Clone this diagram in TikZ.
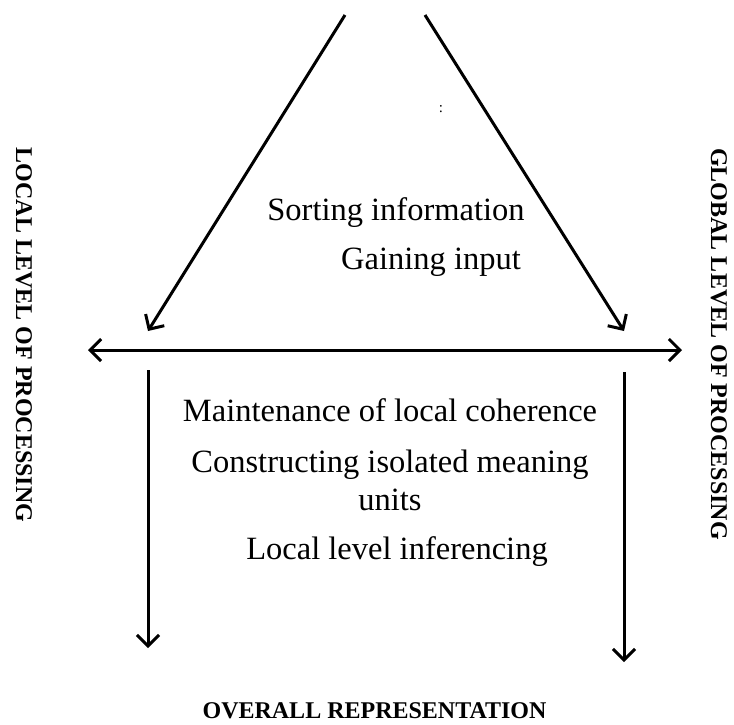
\documentclass[tikz,border=0pt]{standalone}
\usepackage{fontspec}
\setmainfont{Liberation Serif}
\usetikzlibrary{arrows.meta}
\tikzset{
  tip/.style={},
  conn/.style={line width=3pt, -{Straight Barb[length=11pt,width=22pt,line width=3pt]}},
  biconn/.style={line width=3pt, {Straight Barb[length=11pt,width=22pt,line width=3pt]}-{Straight Barb[length=11pt,width=22pt,line width=3pt]}},
  txt/.style={inner sep=0pt, font=\fontsize{32.5}{36}\selectfont},
  lbl/.style={inner sep=0pt, font=\fontsize{24}{28}\selectfont\bfseries},
}
\begin{document}
\begin{tikzpicture}[x=1pt,y=-1pt]
\useasboundingbox (0,0) rectangle (734,724);
% coordinates
\coordinate (ltop) at (345,15);
\coordinate (lbot) at (148,331);
\coordinate (rtop) at (425,15);
\coordinate (rbot) at (624,331);
\coordinate (hl) at (88,350);
\coordinate (hr) at (682,350);
\coordinate (dls) at (148,370);
\coordinate (dle) at (148,648);
\coordinate (drs) at (624,372);
\coordinate (dre) at (624,662);
% connectors
\draw[conn] (ltop) -- (lbot);
\draw[conn] (rtop) -- (rbot);
\draw[biconn] (hl) -- (hr);
\draw[conn] (dls) -- (dle);
\draw[conn] (drs) -- (dre);
% texts
\node[inner sep=0pt, font=\fontsize{15}{16}\selectfont] (colon) at (441,109) {:};
\node[txt] (sort) at (396,213) {Sorting information};
\node[txt] (gain) at (431,262) {Gaining input};
\node[txt] (maint) at (390,410) {Maintenance of local coherence};
\node[txt] (constr) at (390,465) {Constructing isolated meaning};
\node[txt] (units) at (390,500) {units};
\node[txt] (infer) at (397,552) {Local level inferencing};
\node[lbl] (overall) at (374.5,711) {OVERALL REPRESENTATION};
\node[lbl, rotate=-90] (local) at (24,335) {LOCAL LEVEL OF PROCESSING};
\node[lbl, rotate=-90] (global) at (719,344) {GLOBAL LEVEL OF PROCESSING};
\end{tikzpicture}
\end{document}
